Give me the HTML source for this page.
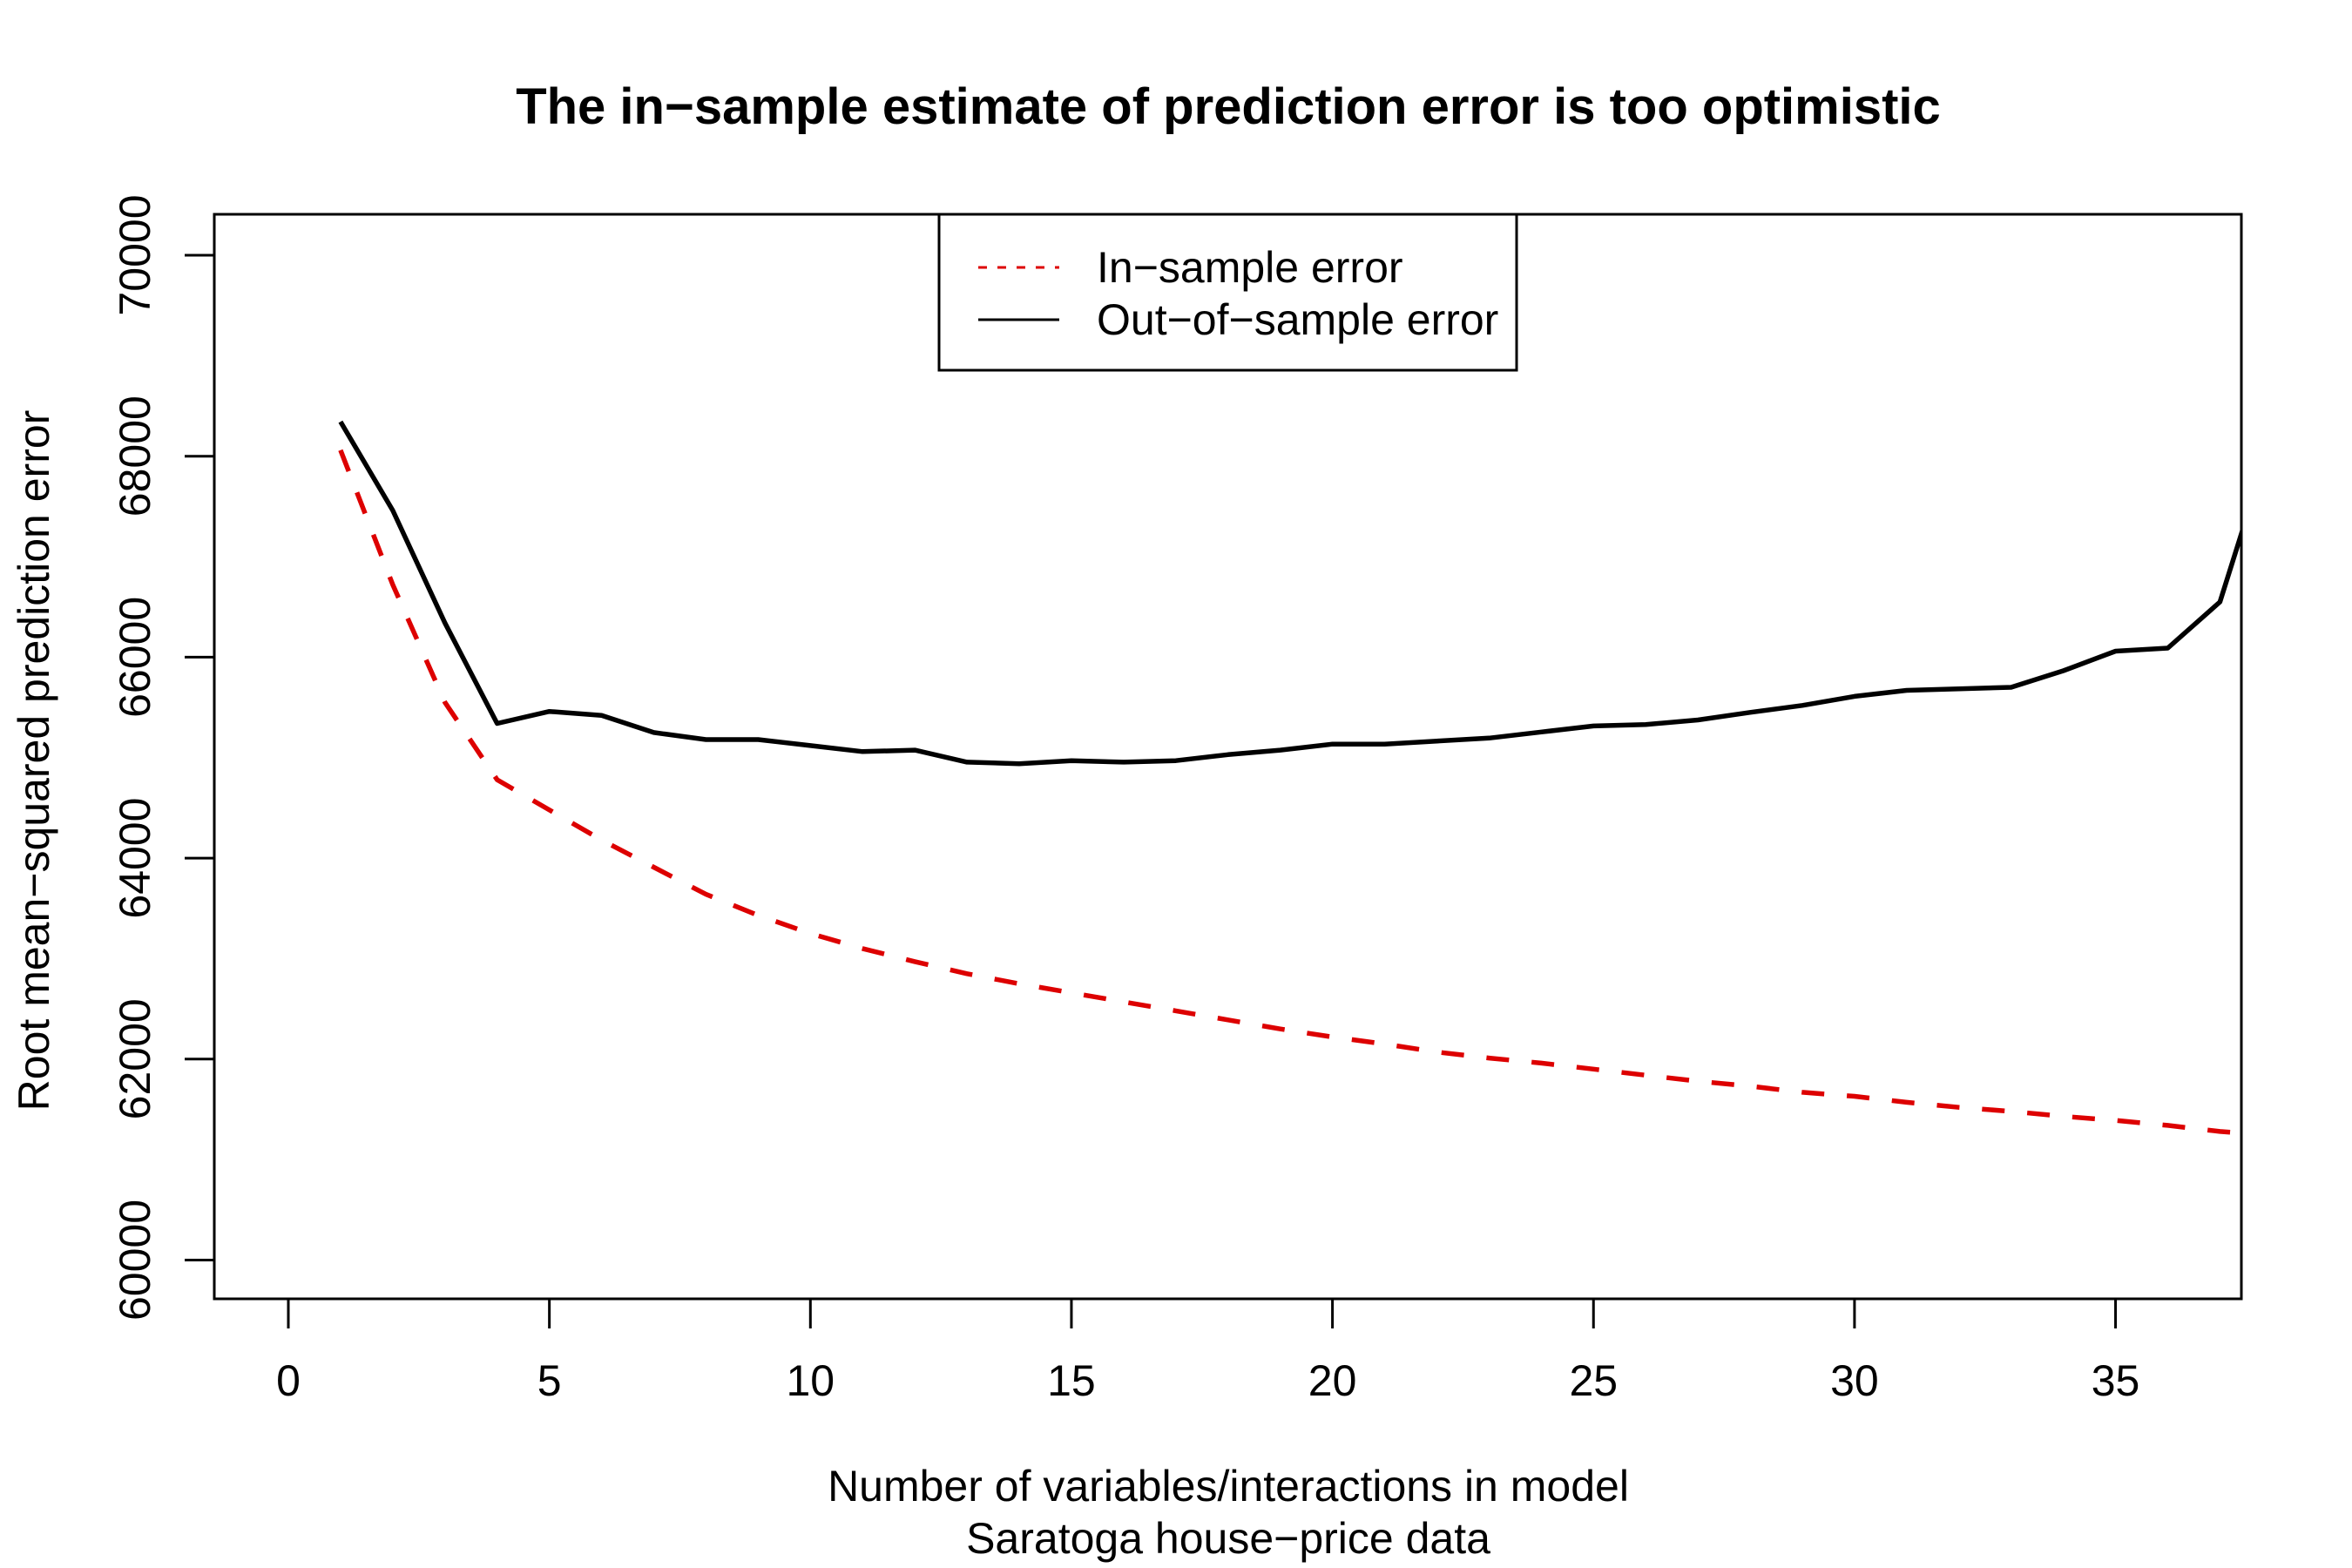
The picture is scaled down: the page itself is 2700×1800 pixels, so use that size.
<!DOCTYPE html>
<html><head><meta charset="utf-8"><style>
html,body{margin:0;padding:0;background:#fff;}
svg{display:block;font-family:"Liberation Sans",Arial,sans-serif;}
</style></head><body>
<svg id="chart" width="2700" height="1800" viewBox="0 0 2700 1800" xmlns="http://www.w3.org/2000/svg">
<defs><clipPath id="plotclip"><rect x="246" y="246" width="2327" height="1245"/></clipPath></defs>
<text x="1410" y="142" text-anchor="middle" font-size="58" font-weight="bold">The in−sample estimate of prediction error is too optimistic</text>
<rect x="246" y="246" width="2327" height="1245" fill="none" stroke="#000" stroke-width="3"/>
<g id="xaxis"></g>
<g id="yaxis"></g>
<g id="series" clip-path="url(#plotclip)"></g>
<text x="1410" y="1723" text-anchor="middle" font-size="50">Number of variables/interactions in model</text>
<text x="1410" y="1783" text-anchor="middle" font-size="50">Saratoga house−price data</text>
<text transform="translate(56,873) rotate(-90)" text-anchor="middle" font-size="50">Root mean−squared prediction error</text>
<g>
<rect x="1078" y="246" width="663" height="179" fill="#fff" stroke="#000" stroke-width="3"/>
<line x1="1123" y1="307" x2="1216" y2="307" stroke="#dd0000" stroke-width="3" stroke-dasharray="10,12"/>
<text x="1259" y="324" font-size="50">In−sample error</text>
<line x1="1123" y1="367" x2="1216" y2="367" stroke="#000" stroke-width="3"/>
<text x="1259" y="384" font-size="50">Out−of−sample error</text>
</g>
</svg>
<script>
const xValues = [1,2,3,4,5,6,7,8,9,10,11,12,13,14,15,16,17,18,19,20,21,22,23,24,25,26,27,28,29,30,31,32,33,34,35,36,37,38];
const inSampleError = [68060,66720,65550,64780,64480,64180,63910,63640,63430,63250,63100,62970,62850,62750,62660,62570,62480,62390,62300,62220,62150,62070,62010,61960,61900,61840,61780,61730,61670,61630,61570,61520,61480,61430,61390,61340,61280,61240];
const outSampleError = [68343,67460,66340,65340,65460,65420,65250,65180,65180,65120,65060,65075,64955,64940,64970,64955,64970,65030,65075,65135,65135,65165,65195,65255,65315,65330,65375,65450,65520,65610,65670,65685,65700,65865,66060,66090,66550,68200];
const xTicks = [0,5,10,15,20,25,30,35];
const yTicks = [60000,62000,64000,66000,68000,70000];

const NS = "http://www.w3.org/2000/svg";
function xs(v){ return 331 + v * 59.93; }
function ys(v){ return 293 + (70000 - v) * (1446.5 - 293) / 10000; }
function mk(tag, attrs, parent){
  const e = document.createElementNS(NS, tag);
  for (const k in attrs) e.setAttribute(k, attrs[k]);
  parent.appendChild(e);
  return e;
}
const xg = document.getElementById('xaxis');
const yg = document.getElementById('yaxis');
const sg = document.getElementById('series');

xTicks.forEach(t => {
  const l = mk('line', {x1: xs(t), x2: xs(t), y1: 1491, y2: 1525, stroke: '#000', 'stroke-width': 3}, xg);
  
  
  const tx = mk('text', {x: xs(t), y: 1602, 'text-anchor': 'middle', 'font-size': 50}, xg);
  tx.textContent = t;
  
  
});
yTicks.forEach(t => {
  const l = mk('line', {x1: 212, x2: 246, y1: ys(t), y2: ys(t), stroke: '#000', 'stroke-width': 3}, yg);
  
  
  const tx = mk('text', {transform: 'translate(172,' + ys(t) + ') rotate(-90)', 'text-anchor': 'middle', 'font-size': 50}, yg);
  tx.textContent = t;
  
  
});
function pts(arr){ return xValues.map((x, i) => xs(x).toFixed(1) + ',' + ys(arr[i]).toFixed(1)).join(' '); }
const red = mk('polyline', {points: pts(inSampleError), fill: 'none', stroke: '#dd0000', 'stroke-width': 5.5, 'stroke-dasharray': '26,26', 'stroke-linejoin': 'round'}, sg);


const blk = mk('polyline', {points: pts(outSampleError), fill: 'none', stroke: '#000', 'stroke-width': 5.5, 'stroke-linejoin': 'round'}, sg);


</script>
</body></html>
